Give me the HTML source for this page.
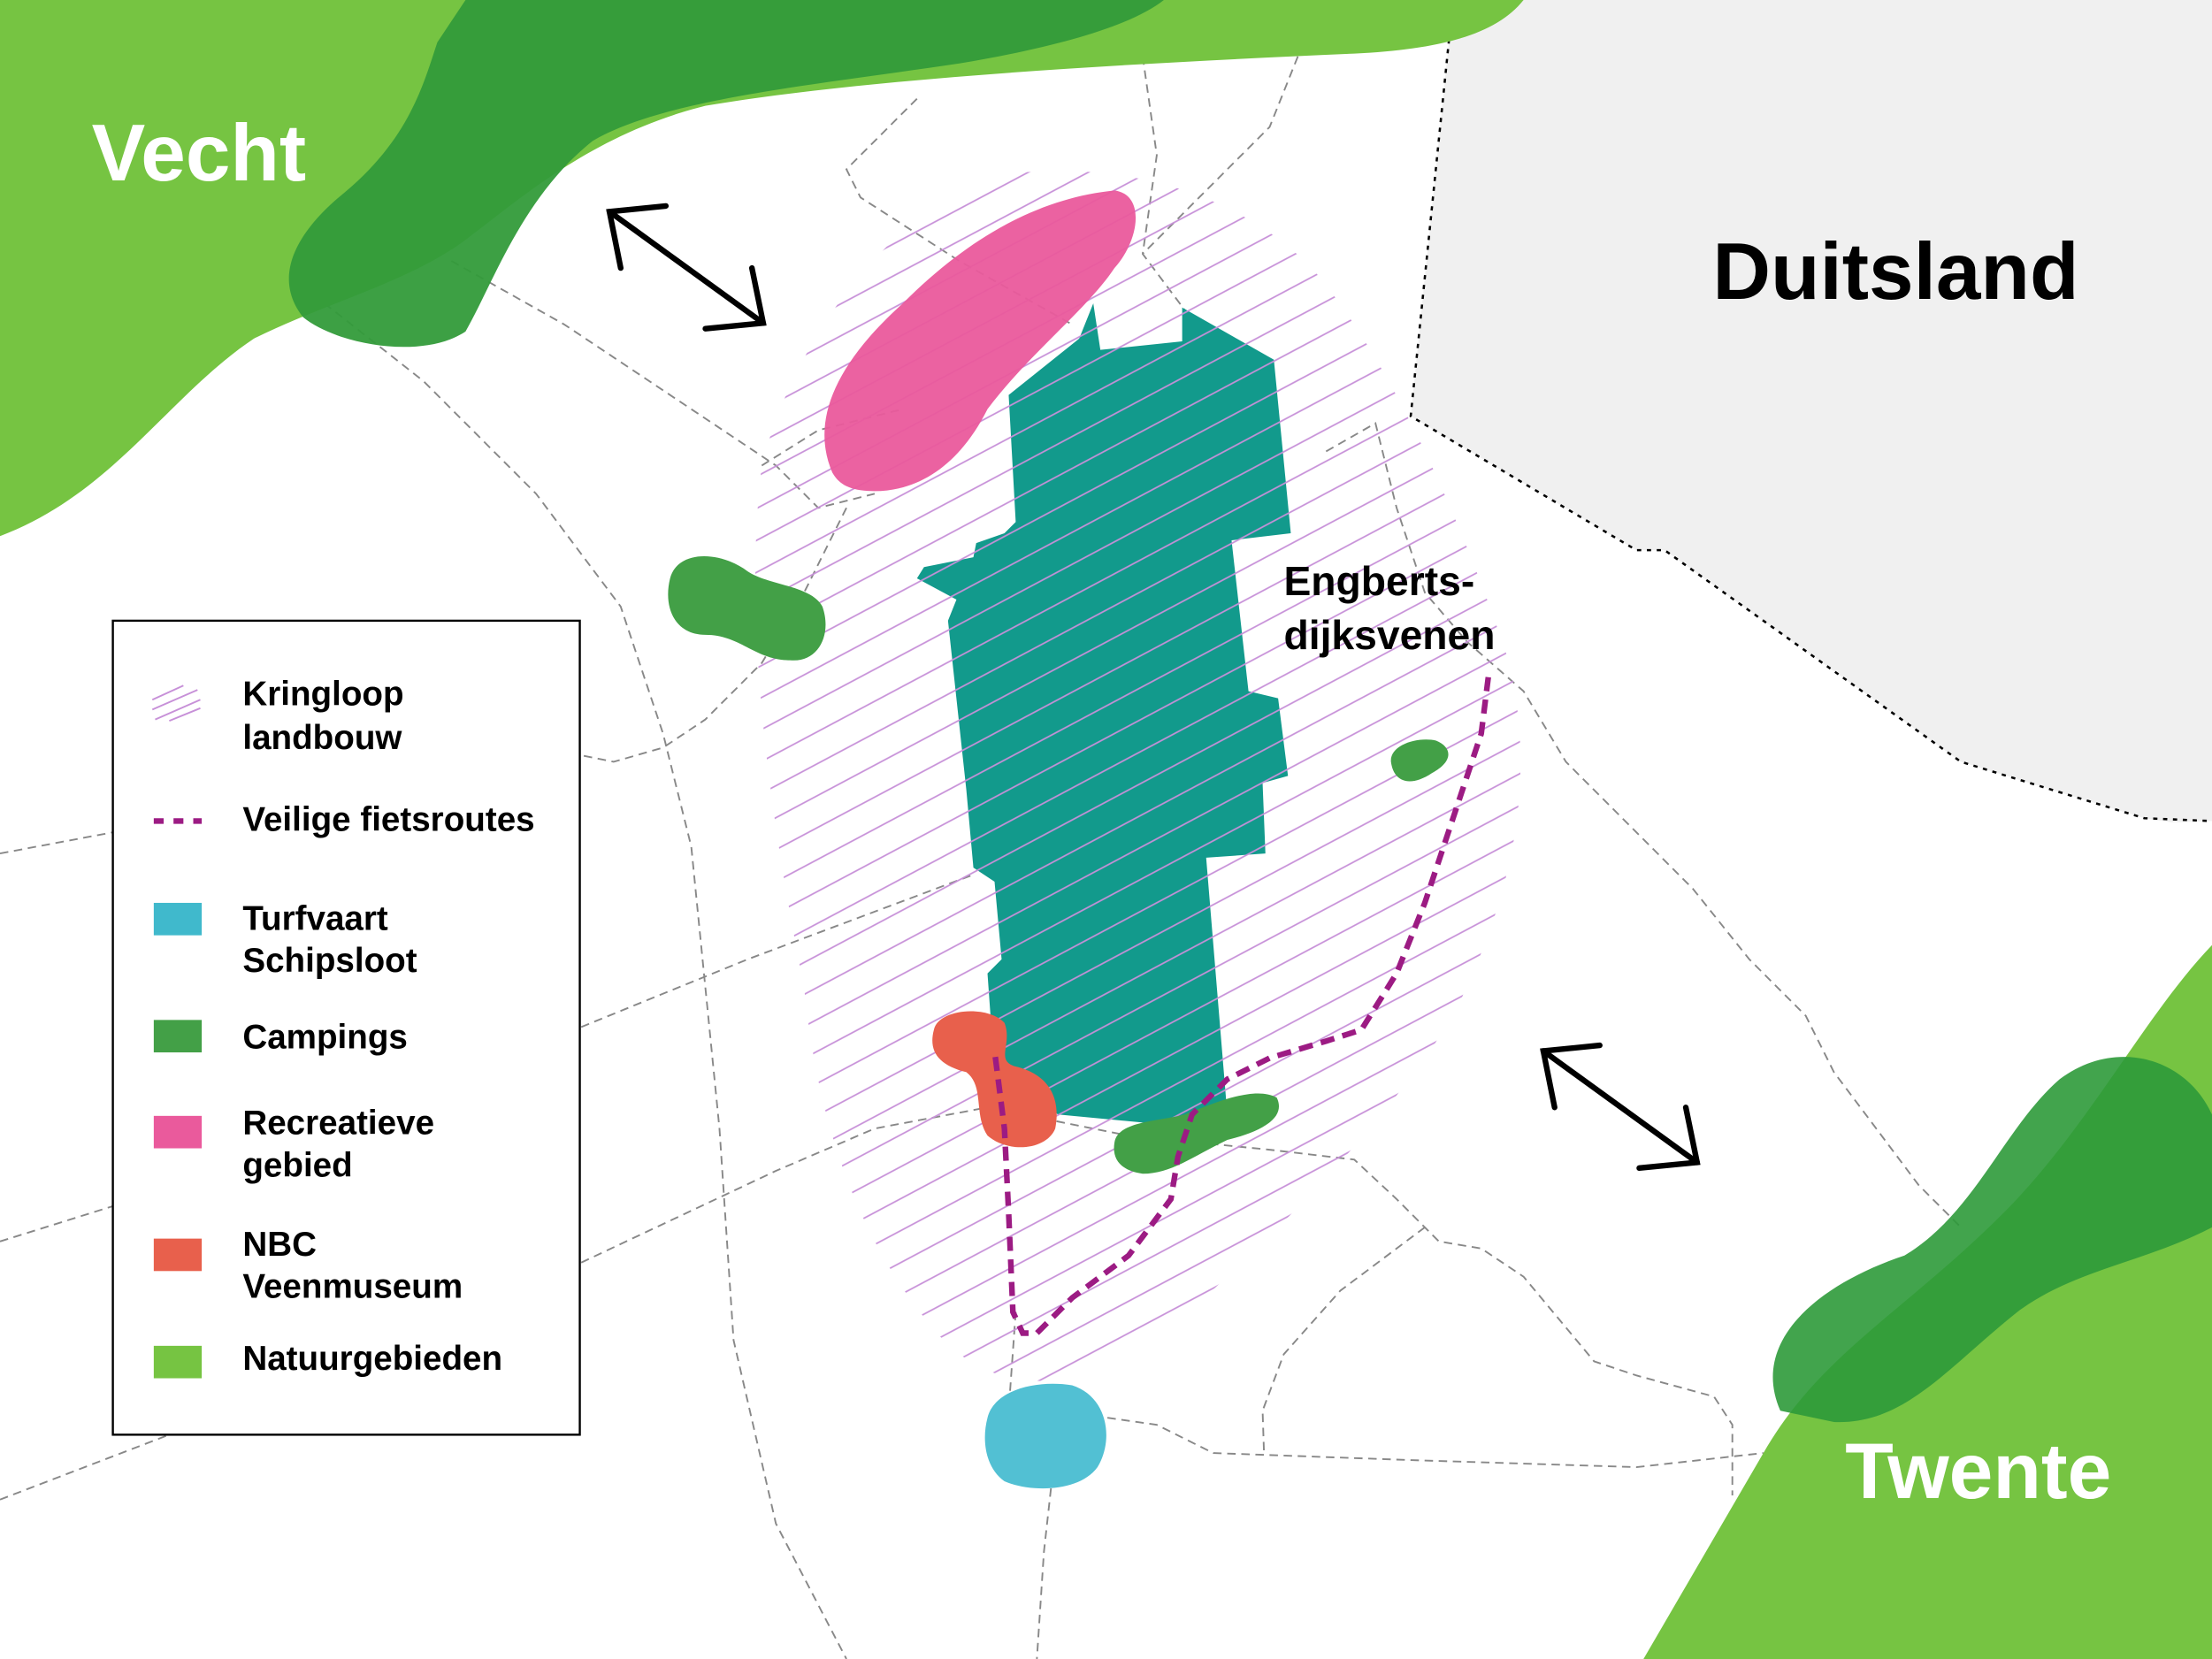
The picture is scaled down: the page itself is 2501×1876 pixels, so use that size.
<!DOCTYPE html>
<html><head><meta charset="utf-8">
<style>
html,body{margin:0;padding:0;background:#fff;}
svg{display:block;}
text{font-family:"Liberation Sans",Arial,sans-serif;font-weight:bold;}
</style></head>
<body>
<svg width="2501" height="1876" viewBox="0 0 1568 1176" preserveAspectRatio="none" xmlns="http://www.w3.org/2000/svg">
<defs>
<pattern id="hatch" patternUnits="userSpaceOnUse" width="40" height="20" patternTransform="rotate(-28)">
<line x1="0" y1="10" x2="40" y2="10" stroke="#c790d8" stroke-width="1.1"/>
</pattern>
<clipPath id="oval">
<path d="M540,330 C560,250 620,160 700,125 C800,110 880,140 930,190 C990,260 1040,380 1070,470 C1090,560 1070,640 1030,720 C980,800 900,880 820,950 C760,990 700,990 660,940 C610,880 580,800 570,700 C550,600 525,450 540,330 Z"/>
</clipPath>
</defs>
<rect width="1568" height="1176" fill="#fff"/>
<path d="M1030,0 L1568,0 L1568,582 L1540,583 L1520,580 L1390,540 L1180,390 L1160,390 L1000,295 Z" fill="#f0f0f0"/>
<path d="M1030,0 L1000,295 L1160,390 L1180,390 L1390,540 L1520,580 L1568,582" fill="none" stroke="#000" stroke-width="1.6" stroke-dasharray="3,4"/>
<g fill="none" stroke="#888" stroke-width="1.2" stroke-dasharray="6,4">
<path d="M650,70 L600,120 L610,140 L680,185 L760,230"/>
<path d="M810,40 L820,110 L810,180 L840,220"/>
<path d="M920,40 L900,90 L850,140 L810,180"/>
<path d="M320,185 L400,230 L550,330 L580,360 L620,350"/>
<path d="M540,330 L580,305 L640,290"/>
<path d="M230,215 L300,270 L380,350 L440,430 L470,520 L490,600 L510,800 L520,950 L550,1080 L600,1176"/>
<path d="M600,360 L570,420 L540,470 L500,510 L470,530 L435,540 L410,535"/>
<path d="M0,605 L80,590"/>
<path d="M412,728 L530,680 L690,620"/>
<path d="M0,880 L80,855"/>
<path d="M412,895 L550,830 L620,800 L700,785 L800,805 L900,815 L960,822 L990,850 L1020,880 L1050,885 L1080,905 L1130,965 L1160,975 L1215,990 L1228,1010 L1228,1060"/>
<path d="M0,1063 L120,1017"/>
<path d="M940,320 L975,300 L990,360 L1010,420 L1040,455 L1080,490 L1110,540 L1150,580 L1200,630 L1240,680 L1280,720 L1300,760 L1330,800 L1360,840 L1390,870"/>
<path d="M720,930 L715,1000 L720,1020"/>
<path d="M785,1005 L820,1010 L860,1030 L1000,1035 L1160,1040 L1250,1030"/>
<path d="M1010,870 L950,915 L910,960 L895,1000 L896,1030"/>
<path d="M745,1055 L740,1100 L735,1176"/>
</g>
<path d="M0,0 L1080,0 C1060,25 1020,35 960,38 C800,45 620,55 500,75 C420,95 370,140 330,170 C290,200 230,215 180,240 C120,280 80,350 0,380 Z" fill="#76c442"/>
<path d="M330,0 L825,0 C800,20 740,35 680,45 C580,60 470,70 420,100 C370,140 350,200 330,235 C300,255 240,245 215,225 C195,200 205,170 240,140 C290,100 300,60 310,30 Z" fill="#339b3a" opacity="0.95"/>
<path d="M1165,1176 L1568,1176 L1568,670 C1520,720 1480,800 1420,860 C1350,930 1290,960 1250,1030 Z" fill="#76c442"/>
<path d="M1262,1000 C1240,950 1290,910 1350,890 C1400,860 1420,800 1460,765 C1500,735 1550,750 1568,790 L1568,870 C1520,895 1470,900 1430,930 C1380,970 1350,1010 1300,1008 Z" fill="#2e9a3a" opacity="0.9"/>
<path d="M775,215 L780,248 L838,242 L838,218 L903,255 L915,378 L873,383 L885,490 L906,495 L913,550 L895,555 L897,605 L855,608 L870,790 L855,800 L750,790 L705,760 L700,690 L710,680 L705,625 L690,615 L685,560 L672,440 L678,425 L650,410 L655,402 L690,395 L692,385 L712,378 L720,370 L715,280 L765,240 Z" fill="#129a8c"/>
<rect x="500" y="100" width="620" height="900" fill="url(#hatch)" clip-path="url(#oval)"/>
<path d="M590,335 C575,300 590,260 640,215 C690,165 740,140 790,135 C812,138 808,170 790,190 C770,220 730,250 700,290 C680,330 650,350 615,348 C600,347 594,342 590,335 Z" fill="#ea5a9c" opacity="0.95"/>
<path d="M475,410 C480,390 510,390 530,405 C545,415 575,415 583,430 C590,450 580,470 560,468 C535,468 525,450 500,450 C478,450 470,430 475,410 Z" fill="#43a047"/>
<path d="M986,540 C985,528 1005,522 1018,525 C1030,530 1030,540 1015,548 C1000,558 988,555 986,540 Z" fill="#43a047"/>
<path d="M790,810 C792,795 820,795 840,790 C865,780 890,770 905,778 C912,792 895,802 870,808 C845,820 830,832 810,832 C795,830 788,822 790,810 Z" fill="#43a047"/>
<path d="M662,730 C665,715 700,712 712,725 C718,740 705,752 720,756 C745,762 752,780 748,800 C742,815 715,818 700,805 C690,790 698,770 685,760 C665,755 658,745 662,730 Z" fill="#e8604c"/>
<path d="M700,1005 C705,985 735,978 760,982 C785,990 790,1020 778,1040 C765,1058 730,1058 712,1050 C698,1040 696,1020 700,1005 Z" fill="#52c0d3"/>
<path d="M1055,480 L1050,520 L1030,580 L1010,640 L990,690 L965,730 L940,738 L900,750 L870,765 L845,790 L835,820 L830,850 L800,890 L760,920 L735,945 L725,945 L718,930 L715,860 L712,800 L705,745" fill="none" stroke="#9c1b83" stroke-width="4" stroke-dasharray="10,6"/>
<g stroke="#000" stroke-width="4" fill="none" stroke-linecap="round">
<line x1="432" y1="150" x2="541" y2="229"/>
<polyline points="440,190 432,150 472,146"/>
<polyline points="500,233 541,229 533,190"/>
<line x1="1094" y1="745" x2="1203" y2="824"/>
<polyline points="1102,785 1094,745 1134,741"/>
<polyline points="1162,828 1203,824 1195,785"/>
</g>
<text x="65" y="128" font-size="57" fill="#fff">Vecht</text>
<text x="1214" y="212" font-size="57" fill="#000">Duitsland</text>
<text x="1308" y="1062" font-size="56" fill="#fff">Twente</text>
<text x="910" y="422" font-size="29" fill="#000">Engberts-</text>
<text x="910" y="460" font-size="29" fill="#000">dijksvenen</text>
<rect x="80" y="440" width="331" height="577" fill="#fff" stroke="#000" stroke-width="1.5"/>
<g stroke="#c790d8" stroke-width="1.2">
<line x1="108" y1="496" x2="130" y2="486"/><line x1="108" y1="503" x2="140" y2="489"/>
<line x1="110" y1="510" x2="142" y2="496"/><line x1="120" y1="511" x2="142" y2="502"/>
</g>
<line x1="109" y1="582" x2="143" y2="582" stroke="#9c1b83" stroke-width="4" stroke-dasharray="7,7"/>
<rect x="109" y="640" width="34" height="23" fill="#40b9cc"/>
<rect x="109" y="723" width="34" height="23" fill="#43a047"/>
<rect x="109" y="791" width="34" height="23" fill="#ea5a9c"/>
<rect x="109" y="878" width="34" height="23" fill="#e8604c"/>
<rect x="109" y="954" width="34" height="23" fill="#76c442"/>
<g font-size="24.2" fill="#000">
<text x="172" y="500">Kringloop</text><text x="172" y="531">landbouw</text>
<text x="172" y="589">Veilige fietsroutes</text>
<text x="172" y="659">Turfvaart</text><text x="172" y="689">Schipsloot</text>
<text x="172" y="743">Campings</text>
<text x="172" y="804">Recreatieve</text><text x="172" y="834">gebied</text>
<text x="172" y="890">NBC</text><text x="172" y="920">Veenmuseum</text>
<text x="172" y="971">Natuurgebieden</text>
</g>
</svg>
</body></html>
